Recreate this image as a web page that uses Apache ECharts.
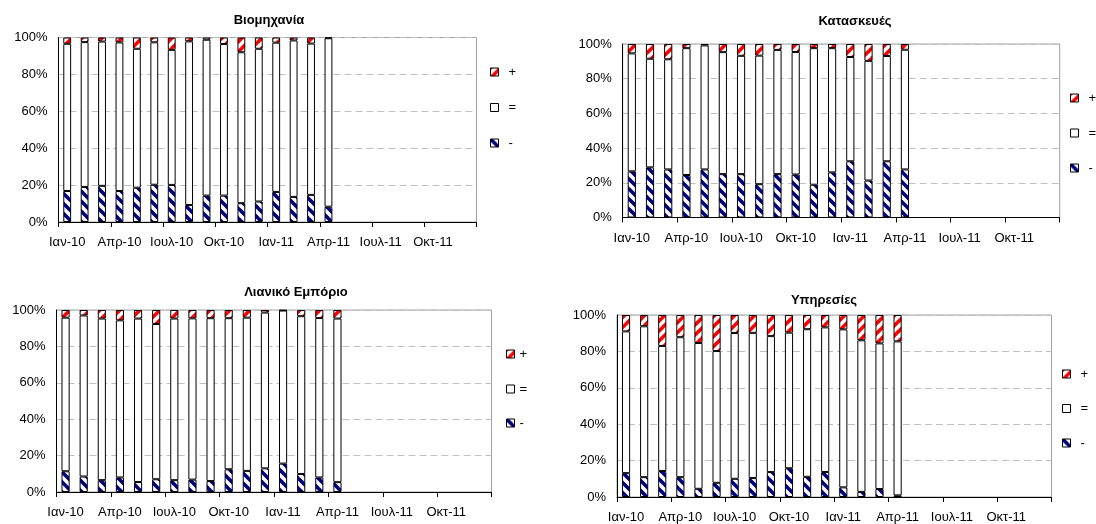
<!DOCTYPE html>
<html><head><meta charset="utf-8">
<script src="https://cdn.jsdelivr.net/npm/echarts@6/dist/echarts.min.js"></script>
<style>html,body{margin:0;padding:0;background:#fff}#c{width:1096px;height:524px}</style>
</head><body><div id="c"></div>
<script>
// ---- data ----
const months = ['Ιαν-10','Φεβ-10','Μαρ-10','Απρ-10','Μαϊ-10','Ιουν-10','Ιουλ-10','Αυγ-10','Σεπ-10','Οκτ-10','Νοε-10','Δεκ-10',
                'Ιαν-11','Φεβ-11','Μαρ-11','Απρ-11','Μαϊ-11','Ιουν-11','Ιουλ-11','Αυγ-11','Σεπ-11','Οκτ-11','Νοε-11','Δεκ-11'];
const seriesNames = ['-', '=', '+'];
const yTicks = [0, 20, 40, 60, 80, 100];
const titles = ['Βιομηχανία', 'Κατασκευές', 'Λιανικό Εμπόριο', 'Υπηρεσίες'];

const industryMinus = [16.8, 19, 19.6, 16.8, 18.6, 20.2, 20.1, 9.2, 14.3, 14.3, 10.2, 11.1, 16.3, 13.6, 14.7, 8.3];
const industryEqual = [79.8, 78.5, 78.2, 80.5, 75.3, 77.2, 73.2, 88.7, 84.5, 82.2, 81.8, 82.8, 80.9, 84.8, 82, 91.3];
const industryPlus  = [3.4, 2.5, 2.2, 2.7, 6.1, 2.6, 6.7, 2.1, 1.2, 3.5, 8, 6.1, 2.8, 1.6, 3.3, 0.4];

const constructionMinus = [26.6, 28.9, 27.7, 24.5, 27.7, 25, 25, 19.2, 25, 24.8, 18.9, 26, 32.4, 21.3, 32.4, 27.7];
const constructionEqual = [68, 62.6, 63.5, 73.1, 71.5, 70.3, 68.2, 74.1, 71.6, 70.6, 78.7, 71.6, 60.1, 69, 60.7, 69];
const constructionPlus  = [5.4, 8.5, 8.8, 2.4, 0.8, 4.7, 6.8, 6.7, 3.4, 4.6, 2.4, 2.4, 7.5, 9.7, 6.9, 3.3];

const retailMinus = [11.4, 8.5, 6.5, 8, 5.5, 7, 6.5, 6.8, 6, 12.5, 11.6, 13, 15.6, 9.9, 8, 5.4];
const retailEqual = [84.4, 88.5, 88.8, 86.3, 89.8, 85.3, 88.8, 88.6, 89.5, 83, 84.2, 85.6, 84.1, 86.7, 87.6, 89.9];
const retailPlus  = [4.2, 3, 4.7, 5.7, 4.7, 7.7, 4.7, 4.6, 4.5, 4.5, 4.2, 1.4, 0.3, 3.4, 4.4, 4.7];

const servicesMinus = [13.1, 10.9, 14.3, 10.9, 4.5, 7.8, 10, 10.4, 13.7, 15.8, 11.1, 13.7, 5.3, 2.8, 4.4, 0.9];
const servicesEqual = [77.9, 82.9, 68.7, 76.9, 80.1, 72.4, 80.1, 79.8, 74.7, 74.5, 81.1, 79.5, 86.8, 83.3, 80, 84.6];
const servicesPlus  = [9, 6.2, 17, 12.2, 15.4, 19.8, 9.9, 9.8, 11.6, 9.7, 7.8, 6.8, 7.9, 13.9, 15.6, 14.5];

const panels = [
  [industryMinus, industryEqual, industryPlus],
  [constructionMinus, constructionEqual, constructionPlus],
  [retailMinus, retailEqual, retailPlus],
  [servicesMinus, servicesEqual, servicesPlus]
];

// ---- styling ----
function stripe(color, dir) {
  const P = 10, c = document.createElement('canvas');
  c.width = P; c.height = P;
  const g = c.getContext('2d');
  g.fillStyle = '#fff'; g.fillRect(0, 0, P, P);
  g.strokeStyle = color; g.lineWidth = 3.6;
  for (let k = -1; k <= 1; k++) {
    g.beginPath();
    if (dir === '/') { g.moveTo(k * P - 2, P + 2); g.lineTo(k * P + P + 2, -2); }
    else { g.moveTo(k * P - 2, -2); g.lineTo(k * P + P + 2, P + 2); }
    g.stroke();
  }
  return { image: c, repeat: 'repeat' };
}
const fills = { '-': stripe('#000080', '\\'), '=': '#ffffff', '+': stripe('#ff0000', '/') };

const grids = [
  { left: 58.5, top: 37.5, width: 418, height: 184.5 },
  { left: 622.7, top: 44, width: 437, height: 173.5 },
  { left: 56.5, top: 310, width: 435, height: 182 },
  { left: 617, top: 315, width: 434.5, height: 182.5 }
];
const titlePos = [[269, 20], [855, 21], [296, 292], [824, 300]];
const FONT = '"Liberation Sans", Arial, sans-serif';

const option = {
  animation: false,
  backgroundColor: '#fff',
  textStyle: { fontFamily: FONT },
  grid: grids.map(g => Object.assign({ show: true, borderColor: '#a0a0a0', borderWidth: 1, backgroundColor: '#fff' }, g)),
  xAxis: grids.map((g, i) => ({
    type: 'category', gridIndex: i, data: months, boundaryGap: true,
    axisLine: { show: true, lineStyle: { color: '#000', width: 1 } },
    axisTick: { show: true, interval: 2, length: 5, lineStyle: { color: '#000' } },
    axisLabel: { interval: 2, color: '#000', fontSize: 13, margin: 14, fontFamily: FONT },
    splitLine: { show: false }
  })),
  yAxis: grids.map((g, i) => ({
    type: 'value', gridIndex: i, min: yTicks[0], max: yTicks[yTicks.length - 1], interval: yTicks[1] - yTicks[0],
    axisLine: { show: true, lineStyle: { color: '#000', width: 1 } },
    axisTick: { show: false },
    axisLabel: { formatter: '{value}%', color: '#000', fontSize: 13, margin: 11, fontFamily: FONT },
    splitLine: { show: true, lineStyle: { color: '#c0c0c0', width: 1, type: [7, 4] } }
  })),
  legend: [],
  series: [],
  graphic: titles.map((t, i) => ({
    type: 'text', x: titlePos[i][0], y: titlePos[i][1],
    style: { text: t, font: 'bold 13px ' + FONT, fill: '#000', textAlign: 'center', textVerticalAlign: 'middle' }
  }))
};

panels.forEach((vals, i) => {
  seriesNames.forEach((name, j) => {
    option.series.push({
      type: 'bar', name: name, stack: 'p' + i, xAxisIndex: i, yAxisIndex: i,
      barWidth: '45%', data: vals[j],
      itemStyle: { color: fills[name], borderColor: '#000', borderWidth: 1 }
    });
  });
});

const legBase = {
  orient: 'vertical', icon: 'rect', itemWidth: 8, itemHeight: 8, padding: 0,
  selectedMode: false,
  itemStyle: { borderColor: '#000', borderWidth: 1 },
  textStyle: { fontSize: 13, lineHeight: 14, color: '#000', padding: [0, 0, 0, 5], fontFamily: FONT }
};
option.legend.push(Object.assign({}, legBase, { left: 490, top: 65, itemGap: 21.5, data: ['+', '=', '-'] }));
option.legend.push(Object.assign({}, legBase, { left: 1070, top: 91, itemGap: 21, data: ['+', '=', '-'] }));
['+', '=', '-'].forEach((n, k) => {
  option.legend.push(Object.assign({}, legBase, {
    left: 506, top: [329, 364, 398][k], data: [n],
    textStyle: { fontSize: 13, lineHeight: 14, color: '#000', padding: [36, 0, 0, 0], fontFamily: FONT }
  }));
});
option.legend.push(Object.assign({}, legBase, { left: 1062, top: 367, itemGap: 20.5, data: ['+', '=', '-'] }));

const chart = echarts.init(document.getElementById('c'), null, { renderer: 'canvas' });
chart.setOption(option);
</script>
</body></html>
